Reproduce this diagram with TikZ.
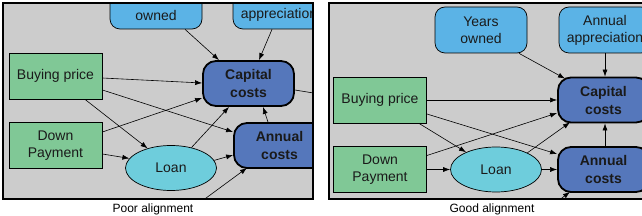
\documentclass[tikz,border=0pt]{standalone}
\usepackage{fontspec}
\setmainfont{Liberation Sans}
\usetikzlibrary{arrows.meta,shapes.geometric}
\definecolor{panelbg}{HTML}{CCCCCC}
\definecolor{lblue}{HTML}{5BB3E6}
\definecolor{lgreen}{HTML}{80C896}
\definecolor{lcyan}{HTML}{6ECDDC}
\definecolor{dblue}{HTML}{5577BB}
\definecolor{txt}{HTML}{1A1A1A}
\begin{document}
\begin{tikzpicture}[x=1pt,y=-1pt,
  nfont/.style={font=\fontsize{14}{17}\selectfont, text=txt},
  inbox/.style={nfont, draw=black, line width=0.7pt, fill=lblue, rounded corners=10pt,
    minimum width=92pt, minimum height=46pt, align=center, inner sep=0pt},
  givenbox/.style={nfont, draw=black, line width=0.8pt, fill=lgreen, rectangle,
    minimum width=93pt, minimum height=46pt, align=center, inner sep=0pt},
  loanbox/.style={nfont, draw=black, line width=0.7pt, fill=lcyan, ellipse,
    minimum width=91pt, minimum height=45pt, inner sep=0pt},
  costbox/.style={font=\fontsize{14}{18}\selectfont\bfseries, text=txt, draw=black,
    line width=1.8pt, fill=dblue, rounded corners=13pt,
    minimum width=91pt, minimum height=45pt, align=center, inner sep=0pt},
  conn/.style={draw=black, line width=0.6pt, -{Latex[length=7pt,width=5pt]}},
  plain/.style={draw=black, line width=0.6pt},
  panel/.style={line width=1.4pt, draw=black},
  caption/.style={font=\fontsize{12}{14}\selectfont, text=black}]
\useasboundingbox (0,0) rectangle (642,216);

% ---------------- left panel: poor alignment ----------------
\begin{scope}
  \clip (3,3) rectangle (313,199);
  \fill[panelbg] (3,3) rectangle (313,199);
  \node[inbox] (ownL) at (156,6) {};
  \node[nfont, inner sep=0pt] (ownLt) at (156,15) {owned};
  \node[inbox] (apprL) at (279,6) {};
  \node[nfont, inner sep=0pt] (apprLt) at (279,15) {appreciation};
  \node[givenbox] (bpL) at (55.5,76) {Buying price};
  \node[givenbox] (dpL) at (55.5,145.5) {Down\\Payment};
  \node[loanbox] (loanL) at (171,168) {Loan};
  \node[costbox] (capL) at (248.5,83.5) {Capital\\costs};
  \node[costbox] (annL) at (279.5,145.5) {Annual\\costs};
  \coordinate (outL) at (330,95.7);
  \coordinate (inL) at (183,215);

  \draw[conn] ([xshift=29pt]ownL.south) -- ([xshift=-29.5pt]capL.north);
  \draw[conn] ([xshift=-7pt]apprL.south) -- ([xshift=10.5pt]capL.north);
  \draw[conn] ([yshift=-2pt]bpL.east) -- ([yshift=0.5pt]capL.west);
  \draw[conn] ([yshift=-14pt]bpL.east) -- ([yshift=13.5pt]annL.west);
  \draw[conn] ([xshift=29.5pt]bpL.south) -- (loanL.140);
  \draw[conn] ([yshift=13.5pt]dpL.east) -- ([yshift=-14.5pt]capL.west);
  \draw[conn] ([yshift=-8.5pt]dpL.east) -- (loanL.167);
  \draw[conn] (loanL.45) -- ([xshift=-19.5pt]capL.south);
  \draw[conn] (loanL.10) -- ([yshift=-9.5pt]annL.west);
  \draw[conn] ([xshift=-11.5pt]annL.north) -- ([xshift=14.5pt]capL.south);
  \draw[plain] ([yshift=-6.5pt]capL.east) -- (outL);
  \draw[conn] (inL) -- ([xshift=-32.5pt,yshift=1pt]annL.south);
\end{scope}
\draw[panel] (3,3) rectangle (313,199);
\node[caption] (capPoor) at (153,209) {Poor alignment};

% ---------------- right panel: good alignment ----------------
\begin{scope}
  \clip (329,3) rectangle (650,199);
  \fill[panelbg] (329,3) rectangle (650,199);
  \node[inbox] (yoR) at (481,30) {Years\\owned};
  \node[inbox] (aaR) at (605,30) {Annual\\appreciation};
  \node[givenbox] (bpR) at (380,100) {Buying price};
  \node[givenbox] (dpR) at (380,169.5) {Down\\Payment};
  \node[loanbox] (loanR) at (496,169.5) {Loan};
  \node[costbox] (capR) at (603.5,100) {Capital\\costs};
  \node[costbox] (annR) at (603.5,169.5) {Annual\\costs};
  \coordinate (inR) at (546,210);

  \draw[conn] ([xshift=38pt]yoR.south) -- ([xshift=-38.5pt,yshift=-2pt]capR.north);
  \draw[conn] (aaR.south) -- ([xshift=1.5pt]capR.north);
  \draw[conn] (bpR.east) -- (capR.west);
  \draw[conn] ([yshift=-14pt]bpR.east) -- ([yshift=15.5pt]annR.west);
  \draw[conn] ([xshift=39pt]bpR.south) -- (loanR.150);
  \draw[conn] ([yshift=14pt]dpR.east) -- ([yshift=-13pt]capR.west);
  \draw[conn] (dpR.east) -- (loanR.west);
  \draw[conn] (loanR.28) -- ([xshift=-33.5pt,yshift=1pt]capR.south);
  \draw[conn] (loanR.east) -- (annR.west);
  \draw[conn] ([xshift=1.5pt]annR.north) -- ([xshift=1.5pt]capR.south);
  \draw[conn] (inR) -- ([xshift=-33.5pt,yshift=1pt]annR.south);
\end{scope}
\draw[panel] (329,3) rectangle (650,199);
\node[caption] (capGood) at (492,209) {Good alignment};
\end{tikzpicture}
\end{document}
